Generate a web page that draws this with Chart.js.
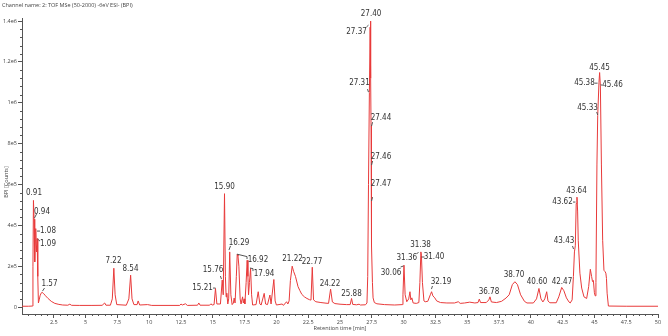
<!DOCTYPE html>
<html>
<head>
<meta charset="utf-8">
<script src="https://cdn.jsdelivr.net/npm/chart.js@4.4.0/dist/chart.umd.min.js"></script>
<style>
  html, body { margin: 0; padding: 0; background: #fff; }
  #wrap { width: 668px; height: 336px; }
</style>
</head>
<body>
<div id="wrap"><canvas id="chrom" width="668" height="336"></canvas></div>
<script>
// Retention time (min) and BPI intensity (counts)
const rt = [0, 0.5, 0.82, 0.86, 0.9, 0.95, 1.0, 1.05, 1.08, 1.12, 1.14, 1.19, 1.24, 1.29, 1.35, 1.42, 1.5, 1.58, 1.7, 1.85,
  2.05, 2.3, 2.58, 2.9, 3.2, 3.6, 3.76, 3.9, 4.5, 5.5, 6.3, 6.5, 6.6, 6.95, 7.1, 7.22, 7.32, 7.45, 8.2, 8.4,
  8.54, 8.65, 8.8, 9.05, 9.13, 9.25, 9.87, 10.2, 12.4, 12.5, 12.6, 12.85, 13.0, 13.8, 13.9, 14.0, 14.75, 14.85, 14.95, 15.1,
  15.21, 15.32, 15.6, 15.74, 15.82, 15.92, 15.99, 16.05, 16.1, 16.18, 16.25, 16.33, 16.42, 16.52, 16.62, 16.68, 16.75, 16.85, 16.92, 16.98,
  17.05, 17.15, 17.22, 17.34, 17.4, 17.47, 17.52, 17.62, 17.7, 17.76, 17.81, 17.88, 17.97, 18.05, 18.13, 18.4, 18.57, 18.7, 18.8, 19.04,
  19.15, 19.3, 19.49, 19.58, 19.65, 19.8, 19.9, 20.0, 20.46, 20.55, 20.8, 20.9, 21.0, 21.1, 21.24, 21.35, 21.5, 21.7, 21.85, 22.0,
  22.2, 22.4, 22.6, 22.72, 22.82, 22.92, 23.1, 23.5, 23.9, 24.1, 24.26, 24.4, 24.6, 25.0, 25.5, 25.8, 25.91, 26.0, 26.3, 26.5,
  26.6, 27.0, 27.12, 27.18, 27.24, 27.31, 27.37, 27.4, 27.42, 27.44, 27.46, 27.47, 27.5, 27.55, 27.6, 27.7, 27.9, 28.5, 29.3, 29.9,
  29.95, 30.03, 30.12, 30.25, 30.4, 30.5, 30.57, 30.65, 30.75, 31.0, 31.2, 31.28, 31.36, 31.4, 31.48, 31.6, 31.7, 31.9, 32.1, 32.2,
  32.3, 32.45, 32.6, 32.9, 33.4, 34.0, 34.3, 34.45, 34.8, 35.2, 35.6, 35.85, 35.95, 36.05, 36.5, 36.7, 36.79, 36.9, 37.3, 37.7,
  38.05, 38.3, 38.55, 38.75, 38.95, 39.2, 39.5, 39.7, 40.2, 40.45, 40.64, 40.8, 40.95, 41.1, 41.25, 41.35, 41.5, 42.0, 42.2, 42.43,
  42.6, 42.8, 43.0, 43.1, 43.25, 43.35, 43.43, 43.5, 43.57, 43.63, 43.68, 43.73, 43.86, 44.0, 44.18, 44.39, 44.55, 44.68, 44.78, 44.85,
  44.92, 45.0, 45.06, 45.12, 45.2, 45.26, 45.36, 45.41, 45.47, 45.55, 45.65, 45.75, 45.82, 45.9, 45.95, 46.0, 46.1, 47.5, 50];
const bpi = [4000, 4000, 5000, 200000, 522000, 430000, 221000, 330000, 384000, 300000, 270000, 335000, 150000, 20000, 35000, 55000, 68000, 72000, 66000, 55000,
  42000, 28000, 18000, 13000, 10000, 9000, 14000, 8500, 8000, 8000, 8500, 20000, 9000, 9000, 40000, 190000, 60000, 12000, 9000, 40000,
  156000, 40000, 12000, 12000, 30000, 10000, 12000, 8000, 8000, 15000, 10000, 16000, 8000, 9000, 20000, 9000, 9000, 16000, 10000, 12000,
  91000, 15000, 15000, 132000, 60000, 555000, 150000, 50000, 68000, 15000, 40000, 270000, 60000, 12000, 20000, 44000, 20000, 150000, 259000, 250000,
  200000, 40000, 15000, 50000, 20000, 40000, 15000, 120000, 229000, 150000, 60000, 120000, 189000, 60000, 10000, 12000, 75000, 15000, 10000, 67000,
  15000, 12000, 59000, 15000, 15000, 135000, 30000, 10000, 15000, 8000, 26000, 15000, 30000, 130000, 200000, 175000, 150000, 100000, 80000, 62000,
  50000, 42000, 36000, 34000, 195000, 35000, 26000, 22000, 19000, 18000, 88000, 25000, 17000, 14000, 12000, 12000, 42000, 13000, 11000, 14000,
  10000, 11000, 20000, 150000, 600000, 1050000, 1370000, 1400000, 1120000, 890000, 705000, 525000, 300000, 120000, 45000, 22000, 16000, 12000, 10000, 12000,
  60000, 205000, 60000, 26000, 40000, 75000, 35000, 45000, 20000, 18000, 22000, 120000, 270000, 254000, 120000, 30000, 26000, 28000, 60000, 75000,
  55000, 45000, 30000, 22000, 20000, 20000, 26000, 18000, 20000, 24000, 20000, 22000, 39000, 22000, 22000, 35000, 50000, 25000, 22000, 28000,
  44000, 60000, 110000, 124000, 110000, 60000, 28000, 20000, 20000, 40000, 91000, 40000, 25000, 40000, 75000, 30000, 21000, 21000, 50000, 96000,
  80000, 45000, 25000, 20000, 35000, 150000, 270000, 300000, 507000, 538000, 470000, 327000, 166000, 93000, 50000, 42000, 100000, 185000, 150000, 125000,
  130000, 70000, 55000, 120000, 700000, 937000, 1100000, 1148000, 1083000, 700000, 327000, 180000, 175000, 166000, 140000, 68000, 5000, 4000, 4000];

// Axis ticks
const xTicks = [2.5, 5, 7.5, 10, 12.5, 15, 17.5, 20, 22.5, 25, 27.5, 30, 32.5, 35, 37.5, 40, 42.5, 45, 47.5, 50];
const yTicks = [0, 200000, 400000, 600000, 800000, 1000000, 1200000, 1400000];

// Peak annotations: text, label centre (min, counts)
const peakText = ['0.91', '0.94', '1.08', '1.09', '1.57', '7.22', '8.54', '15.21', '15.76', '15.90', '16.29', '16.92', '17.94',
  '21.22', '22.77', '24.22', '25.88', '27.40', '27.37', '27.31', '27.44', '27.46', '27.47', '30.06', '31.36', '31.38', '31.40',
  '32.19', '36.78', '38.70', '40.60', '42.47', '43.43', '43.62', '43.64', '45.33', '45.38', '45.45', '45.46'];
const peakLabX = [0.94, 1.57, 2.04, 2.04, 2.16, 7.19, 8.53, 14.19, 15.02, 15.92, 17.06, 18.55, 19.03,
  21.27, 22.8, 24.21, 25.9, 27.44, 26.3, 26.53, 28.22, 28.22, 28.22, 29.01, 30.25, 31.33, 32.39,
  32.94, 36.71, 38.68, 40.49, 42.45, 42.61, 42.49, 43.59, 44.46, 44.22, 45.4, 46.43];
const peakLabY = [558000, 465000, 372000, 308000, 113000, 225000, 186000, 93000, 181000, 587000, 313000, 230000, 162000,
  235000, 220000, 113000, 64000, 1434000, 1346000, 1096000, 925000, 734000, 602000, 166000, 240000, 303000, 245000,
  122000, 73000, 157000, 122000, 122000, 323000, 514000, 568000, 974000, 1096000, 1170000, 1087000];

// Leader lines: [t1, v1, t2, v2]
const leaders = [
  [0.98, 436000, 1.14, 455000], [1.18, 372000, 1.415, 372000], [1.22, 333000, 1.415, 323000], [1.61, 78000, 1.77, 93000],
  [15.02, 93000, 15.21, 93000], [15.6, 152000, 15.68, 137000], [16.27, 279000, 16.39, 299000], [16.9, 259000, 17.69, 247000],
  [17.69, 247000, 17.69, 235000], [17.92, 191000, 18.16, 188000], [18.16, 188000, 18.16, 176000],
  [27.08, 1371000, 27.24, 1380000], [27.16, 1067000, 27.24, 1052000], [27.48, 886000, 27.56, 905000], [27.48, 695000, 27.56, 715000],
  [27.48, 519000, 27.56, 538000], [29.76, 196000, 29.99, 201000], [31.01, 259000, 31.17, 269000], [31.41, 245000, 31.64, 245000],
  [32.19, 88000, 32.27, 103000], [43.28, 299000, 43.36, 284000], [43.32, 514000, 43.51, 514000], [45.18, 955000, 45.26, 940000],
  [45.01, 1096000, 45.25, 1096000], [45.48, 1087000, 45.64, 1087000]];

const points = rt.map((t, i) => ({ x: t, y: bpi[i] }));
const labelFont = "8px 'Liberation Sans Narrow', 'DejaVu Sans Condensed', sans-serif";
const smallFont = "'Open Sans', sans-serif";

function fmtExp(v) {
  if (v === 0) return '0';
  const e = Math.floor(Math.log10(v));
  const m = parseFloat((v / Math.pow(10, e)).toFixed(2));
  return m + 'e' + e;
}

const decor = {
  id: 'decor',
  afterDraw(chart) {
    const ctx = chart.ctx, xs = chart.scales.x, ys = chart.scales.y, a = chart.chartArea;
    ctx.save();
    // minor ticks
    ctx.strokeStyle = '#555';
    ctx.lineWidth = 1;
    ctx.beginPath();
    for (let k = 1; k < 100; k++) {
      if (k % 5 === 0) continue;
      const px = Math.round(xs.getPixelForValue(k * 0.5)) + 0.5;
      ctx.moveTo(px, a.bottom); ctx.lineTo(px, a.bottom + 2);
    }
    for (let k = 1; k < 36; k++) {
      if (k % 5 === 0) continue;
      const py = Math.round(ys.getPixelForValue(k * 40000)) + 0.5;
      ctx.moveTo(a.left, py); ctx.lineTo(a.left - 2, py);
    }
    ctx.stroke();

    // leaders
    ctx.strokeStyle = '#555';
    ctx.beginPath();
    leaders.forEach(l => {
      ctx.moveTo(xs.getPixelForValue(l[0]), ys.getPixelForValue(l[1]));
      ctx.lineTo(xs.getPixelForValue(l[2]), ys.getPixelForValue(l[3]));
    });
    ctx.stroke();

    // peak labels
    ctx.fillStyle = '#333';
    ctx.font = labelFont;
    ctx.textAlign = 'center';
    ctx.textBaseline = 'middle';
    peakText.forEach((s, i) => {
      ctx.fillText(s, xs.getPixelForValue(peakLabX[i]), ys.getPixelForValue(peakLabY[i]));
    });

    // header and axis titles
    ctx.fillStyle = '#444';
    ctx.font = "5.5px " + smallFont;
    ctx.textAlign = 'left';
    ctx.fillText('Channel name: 2: TOF MSe (50-2000) -6eV ESI- (BPI)', 2, 5);
    ctx.textAlign = 'center';
    ctx.fillText('Retention time [min]', 340, 328);
    ctx.translate(6, 182);
    ctx.rotate(-Math.PI / 2);
    ctx.fillText('BPI [Counts]', 0, 0);
    ctx.restore();
  }
};

new Chart(document.getElementById('chrom').getContext('2d'), {
  type: 'line',
  data: {
    datasets: [{
      data: points,
      borderColor: 'rgb(232,58,58)',
      borderWidth: 1,
      pointRadius: 0,
      tension: 0,
      fill: false
    }]
  },
  options: {
    responsive: false,
    animation: false,
    devicePixelRatio: 1,
    layout: { padding: { left: 0, right: 10, top: 18, bottom: 0 } },
    plugins: { legend: { display: false }, tooltip: { enabled: false }, title: { display: false } },
    scales: {
      x: {
        type: 'linear', min: 0, max: 50,
        afterBuildTicks: s => { s.ticks = xTicks.map(v => ({ value: v })); },
        afterFit: s => { s.height = 22; },
        grid: { drawOnChartArea: false, drawTicks: true, tickLength: 4, color: '#555' },
        border: { display: true, color: '#555' },
        ticks: { font: { size: 5.5, family: smallFont }, color: '#444', padding: 1, maxRotation: 0, autoSkip: false,
          callback: v => String(v) }
      },
      y: {
        type: 'linear', min: -34000, max: 1415000,
        afterBuildTicks: s => { s.ticks = yTicks.map(v => ({ value: v })); },
        afterFit: s => { s.width = 22; },
        grid: { drawOnChartArea: false, drawTicks: true, tickLength: 4, color: '#555' },
        border: { display: true, color: '#555' },
        ticks: { font: { size: 5.5, family: smallFont }, color: '#444', padding: 1, autoSkip: false,
          callback: v => fmtExp(v) }
      }
    }
  },
  plugins: [decor]
});
</script>
</body>
</html>
